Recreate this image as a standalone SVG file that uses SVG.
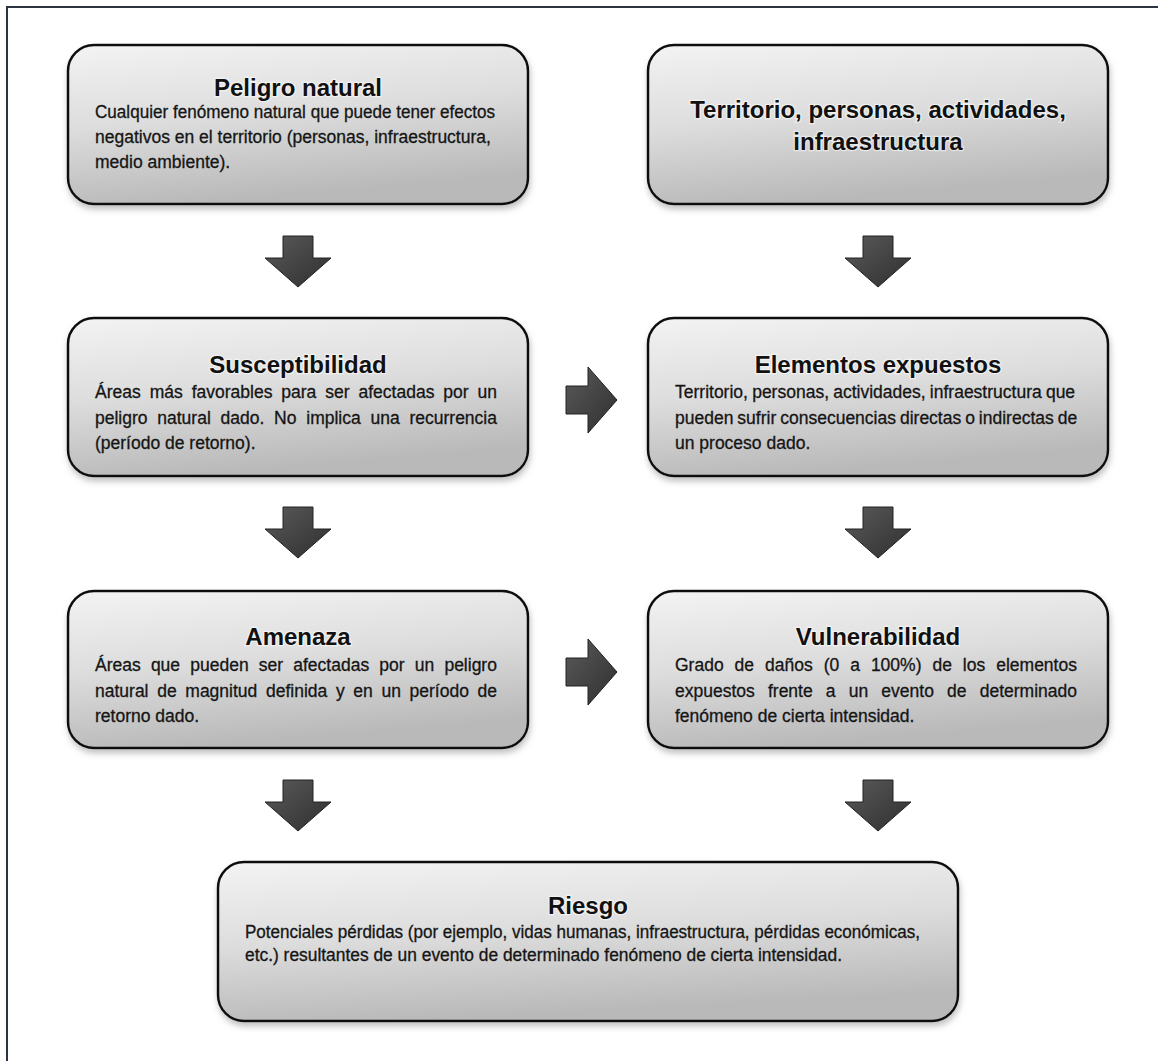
<svg xmlns="http://www.w3.org/2000/svg" width="1158" height="1061" viewBox="0 0 1158 1061">
  <defs>
    <linearGradient id="boxFill" x1="0" y1="0" x2="0.25" y2="1">
      <stop offset="0" stop-color="#f3f3f3"/>
      <stop offset="0.5" stop-color="#dddddd"/>
      <stop offset="1" stop-color="#b9b9b9"/>
    </linearGradient>
    <linearGradient id="arrowFill" x1="0" y1="0" x2="1" y2="1">
      <stop offset="0" stop-color="#5a5a5a"/>
      <stop offset="1" stop-color="#2f2f2f"/>
    </linearGradient>
    <filter id="shadow" x="-5%" y="-10%" width="110%" height="130%">
      <feDropShadow dx="1" dy="4" stdDeviation="3" flood-color="#8c8c8c" flood-opacity="0.55"/>
    </filter>
    <path id="arrowDown" d="M-15,0 H15 V22 H33 L0,51 L-33,22 H-15 Z"/>
    <path id="arrowRight" d="M0,-14 H22 V-33 L51,0 L22,33 V14 H0 Z"/>
  </defs>
  <style>
    .box { fill: url(#boxFill); stroke: #111; stroke-width: 2.5; filter: url(#shadow); }
    .title { font-family: "Liberation Sans", Arial, sans-serif; font-weight: bold; font-size: 24px; fill: #111; text-anchor: middle; stroke: #ffffff; stroke-opacity: 0.55; stroke-width: 2.5; paint-order: stroke; }
    .body { font-family: "Liberation Sans", Arial, sans-serif; font-size: 17.5px; fill: #151515; stroke: #151515; stroke-width: 0.3; }
    .arrow { fill: url(#arrowFill); stroke: #222; stroke-width: 1; }
    .frame { fill: none; stroke: #2b3440; stroke-width: 2; }
  </style>

  <rect width="1158" height="1061" fill="#ffffff"/>
  <path class="frame" d="M7,1061 V7 H1158"/>

  <g id="connectors">
    <use href="#arrowDown" class="arrow" x="298" y="236"/>
    <use href="#arrowDown" class="arrow" x="878" y="236"/>
    <use href="#arrowDown" class="arrow" x="298" y="507"/>
    <use href="#arrowDown" class="arrow" x="878" y="507"/>
    <use href="#arrowDown" class="arrow" x="298" y="780"/>
    <use href="#arrowDown" class="arrow" x="878" y="780"/>
    <use href="#arrowRight" class="arrow" x="566" y="400"/>
    <use href="#arrowRight" class="arrow" x="566" y="672"/>
  </g>

  <g id="peligro-natural">
    <rect class="box" x="68" y="45" width="460" height="159" rx="26"/>
    <text class="title" x="298" y="96">Peligro natural</text>
    <text class="body" x="95" y="118" textLength="400" lengthAdjust="spacingAndGlyphs">Cualquier fenómeno natural que puede tener efectos</text>
    <text class="body" x="95" y="143">negativos en el territorio (personas, infraestructura,</text>
    <text class="body" x="95" y="168">medio ambiente).</text>
  </g>

  <g id="territorio">
    <rect class="box" x="648" y="45" width="460" height="159" rx="26"/>
    <text class="title" x="878" y="118">Territorio, personas, actividades,</text>
    <text class="title" x="878" y="150">infraestructura</text>
  </g>

  <g id="susceptibilidad">
    <rect class="box" x="68" y="318" width="460" height="158" rx="26"/>
    <text class="title" x="298" y="373">Susceptibilidad</text>
    <text class="body" x="95" y="398" word-spacing="4.07">Áreas más favorables para ser afectadas por un</text>
    <text class="body" x="95" y="424" word-spacing="4.9">peligro natural dado. No implica una recurrencia</text>
    <text class="body" x="95" y="449">(período de retorno).</text>
  </g>

  <g id="elementos-expuestos">
    <rect class="box" x="648" y="318" width="460" height="158" rx="26"/>
    <text class="title" x="878" y="373">Elementos expuestos</text>
    <text class="body" x="675" y="398" word-spacing="-0.65">Territorio, personas, actividades, infraestructura que</text>
    <text class="body" x="675" y="424" word-spacing="-0.9">pueden sufrir consecuencias directas o indirectas de</text>
    <text class="body" x="675" y="449">un proceso dado.</text>
  </g>

  <g id="amenaza">
    <rect class="box" x="68" y="591" width="460" height="157" rx="26"/>
    <text class="title" x="298" y="645">Amenaza</text>
    <text class="body" x="95" y="671" word-spacing="5.3">Áreas que pueden ser afectadas por un peligro</text>
    <text class="body" x="95" y="697" word-spacing="3.8">natural de magnitud definida y en un período de</text>
    <text class="body" x="95" y="722">retorno dado.</text>
  </g>

  <g id="vulnerabilidad">
    <rect class="box" x="648" y="591" width="460" height="157" rx="26"/>
    <text class="title" x="878" y="645">Vulnerabilidad</text>
    <text class="body" x="675" y="671" word-spacing="6.1">Grado de daños (0 a 100%) de los elementos</text>
    <text class="body" x="675" y="697" word-spacing="8.3">expuestos frente a un evento de determinado</text>
    <text class="body" x="675" y="722">fenómeno de cierta intensidad.</text>
  </g>

  <g id="riesgo">
    <rect class="box" x="218" y="862" width="740" height="159" rx="26"/>
    <text class="title" x="588" y="914">Riesgo</text>
    <text class="body" x="245" y="938" textLength="675" lengthAdjust="spacingAndGlyphs">Potenciales pérdidas (por ejemplo, vidas humanas, infraestructura, pérdidas económicas,</text>
    <text class="body" x="245" y="961" textLength="597" lengthAdjust="spacingAndGlyphs">etc.) resultantes de un evento de determinado fenómeno de cierta intensidad.</text>
  </g>
</svg>
